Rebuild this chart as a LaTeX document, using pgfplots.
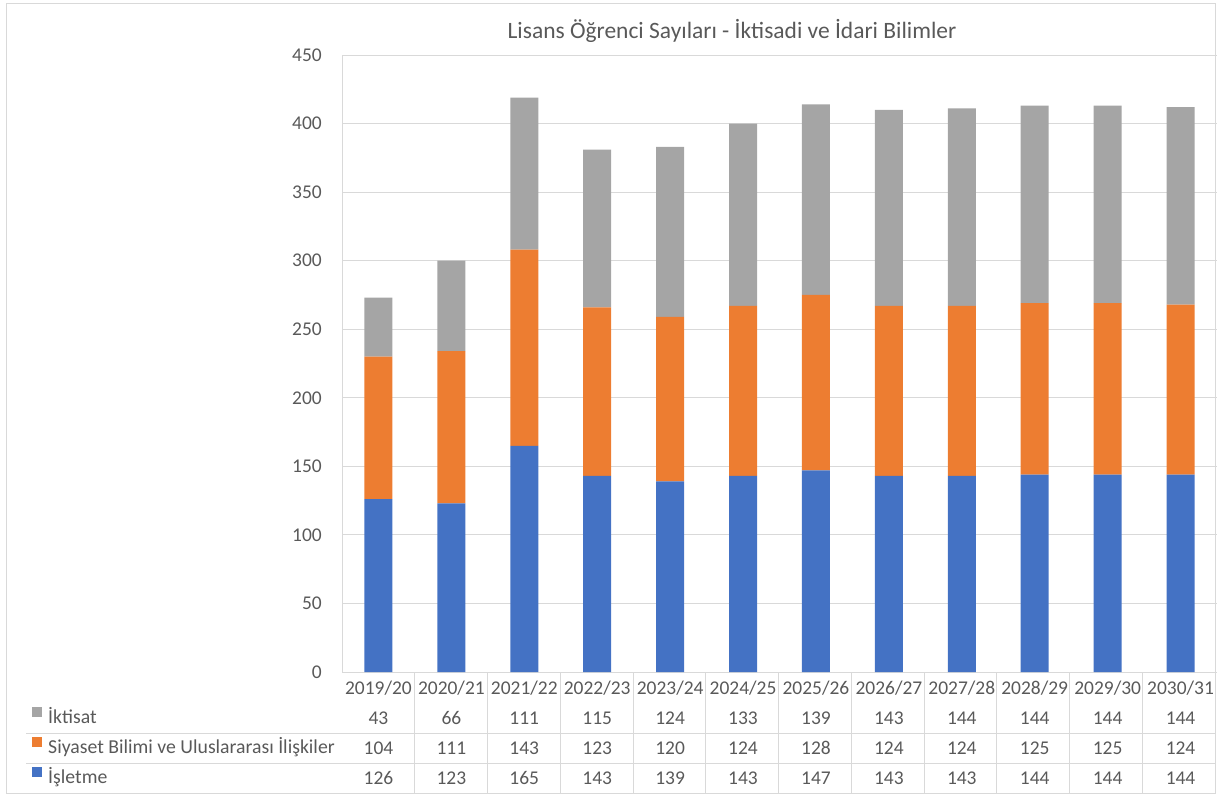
\documentclass[border=0pt]{standalone}
\usepackage{pgfplots}
\usepackage{pgfplotstable}
\pgfplotsset{compat=1.18}
\usepackage{fontspec}
\setmainfont{Carlito}
\definecolor{cblue}{HTML}{4472C4}
\definecolor{corange}{HTML}{ED7D31}
\definecolor{cgray}{HTML}{A5A5A5}
\definecolor{tgray}{HTML}{595959}
\definecolor{lgray}{HTML}{D9D9D9}

\pgfplotstableread{
x year ikt siy isl
0 2019/20 43 104 126
1 2020/21 66 111 123
2 2021/22 111 143 165
3 2022/23 115 123 143
4 2023/24 124 120 139
5 2024/25 133 124 143
6 2025/26 139 128 147
7 2026/27 143 124 143
8 2027/28 144 124 143
9 2028/29 144 125 144
10 2029/30 144 125 144
11 2030/31 144 124 144
}\datatable

\begin{document}
\begin{tikzpicture}
\useasboundingbox (0,0) rectangle (915pt,595.5pt);
% chart border
\draw[lgray,line width=0.75pt] (4.5pt,0.75pt) rectangle (911.25pt,592.5pt);
% title
\node[anchor=base,text=tgray,font=\fontsize{17.6pt}{20pt}\selectfont] at (549pt,566.25pt) {Lisans Öğrenci Sayıları - İktisadi ve İdari Bilimler};
\begin{axis}[
  at={(256.5pt,91.5pt)}, anchor=south west,
  scale only axis, width=656.25pt, height=462.75pt,
  ybar stacked, bar width=21pt,
  xmin=-0.5, xmax=11.5, ymin=0, ymax=450,
  xtick={0,...,11}, ytick={0,50,...,450},
  axis x line*=bottom, axis y line*=left,
  axis line style={lgray,line width=0.75pt,-},
  major tick length=0pt,
  ymajorgrids, grid style={lgray,line width=0.75pt},
  /pgf/number format/assume math mode=true,
  ticklabel style={text=tgray,font=\fontsize{14.6pt}{22.5pt}\selectfont},
  yticklabel style={inner sep=0pt,xshift=-15pt},
  xticklabel style={align=center,anchor=north,inner sep=0pt,yshift=-6.5pt},
  xticklabel={%
    \pgfplotstablegetelem{\ticknum}{year}\of\datatable\pgfplotsretval\\
    \pgfplotstablegetelem{\ticknum}{ikt}\of\datatable\pgfplotsretval\\
    \pgfplotstablegetelem{\ticknum}{siy}\of\datatable\pgfplotsretval\\
    \pgfplotstablegetelem{\ticknum}{isl}\of\datatable\pgfplotsretval},
  clip=false,
  reverse legend, legend cell align=left,
  legend image code/.code={\fill[#1,draw=none] (0pt,0.75pt) rectangle (7.5pt,8.25pt);},
  legend style={draw=none,fill=none,at={(axis description cs:-0.354,-0.0502)},anchor=north west,
    inner sep=0pt,outer sep=0pt,row sep=0pt,text=tgray,
    font=\fontsize{14.8pt}{16pt}\selectfont,
    nodes={inner sep=0pt,text height=15.75pt,text depth=6.75pt},
    /tikz/every odd column/.append style={column sep=4.5pt}},
]
\addplot[fill=cblue,draw=none] table[x=x,y=isl]{\datatable};
\addlegendentry{İşletme}
\addplot[fill=corange,draw=none] table[x=x,y=siy]{\datatable};
\addlegendentry{Siyaset Bilimi ve Uluslararası İlişkiler}
\addplot[fill=cgray,draw=none] table[x=x,y=ikt]{\datatable};
\addlegendentry{İktisat}
\end{axis}
% data table grid
\draw[lgray,line width=0.75pt] (19.5pt,45.75pt) -- (911.25pt,45.75pt);
\draw[lgray,line width=0.75pt] (19.5pt,23.25pt) -- (911.25pt,23.25pt);
\foreach \k in {1,...,11} \draw[lgray,line width=0.75pt] ({(342+72.75*\k)*0.75pt},91.5pt) -- ({(342+72.75*\k)*0.75pt},0.75pt);
\end{tikzpicture}
\end{document}
